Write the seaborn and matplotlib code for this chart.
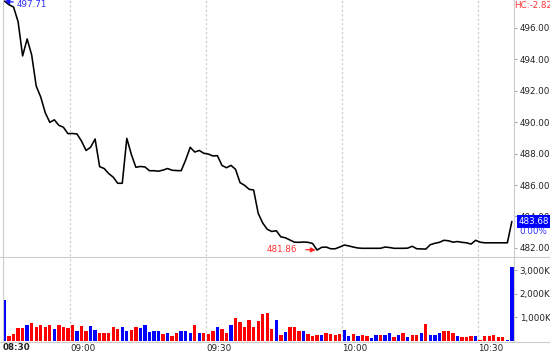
import pandas as pd
import seaborn as sns
import matplotlib.pyplot as plt
from matplotlib.lines import Line2D

# minute index of each 1-min bar
minutes = list(range(113))

price = [
    497.71, 497.48, 497.33, 496.40, 494.22, 495.30, 494.28, 492.30, 491.60, 490.60,
    489.99, 490.15, 489.80, 489.68, 489.27, 489.28, 489.25, 488.80, 488.20, 488.40,
    488.93, 487.17, 487.05, 486.73, 486.50, 486.11, 486.11, 488.97, 487.95, 487.13,
    487.18, 487.15, 486.91, 486.91, 486.88, 486.95, 487.05, 486.94, 486.92, 486.91,
    487.60, 488.40, 488.10, 488.20, 488.02, 487.97, 487.85, 487.87, 487.25, 487.10,
    487.25, 487.00, 486.15, 485.98, 485.73, 485.68, 484.20, 483.58, 483.18, 483.04,
    483.09, 482.70, 482.64, 482.50, 482.36, 482.35, 482.37, 482.35, 482.28, 481.86,
    482.03, 482.05, 481.94, 481.94, 482.05, 482.18, 482.12, 482.05, 481.99, 481.97,
    481.97, 481.97, 481.97, 481.97, 482.05, 482.02, 481.97, 481.97, 481.97, 481.98,
    482.10, 481.94, 481.93, 481.92, 482.20, 482.29, 482.35, 482.48, 482.45, 482.36,
    482.40, 482.35, 482.32, 482.24, 482.48, 482.36, 482.32, 482.32, 482.32, 482.32,
    482.32, 482.32, 483.68,
]

volume_k = [
    1730, 215, 315, 570, 545, 690, 760, 590, 690, 590,
    690, 500, 690, 600, 545, 686, 443, 658, 429, 629,
    486, 343, 343, 358, 586, 515, 615, 443, 486, 615,
    543, 686, 400, 429, 429, 286, 329, 229, 329, 443,
    429, 329, 686, 358, 329, 286, 429, 586, 515, 329,
    686, 972, 786, 615, 872, 600, 829, 1158, 1187, 515,
    900, 257, 400, 586, 615, 429, 443, 286, 229, 257,
    257, 329, 315, 257, 286, 472, 215, 315, 215, 257,
    229, 114, 257, 257, 257, 358, 186, 257, 358, 186,
    257, 272, 358, 715, 243, 257, 358, 429, 429, 358,
    215, 186, 186, 215, 215, 43, 215, 229, 257, 186,
    186, 43, 3160,
]

# b = blue bar, r = red bar
bar_dir = list(
    "brrrrbrrrr" "rbrrrrbrrb" "brrrrrbbrr" "bbbbbrbrrb"
    "bbrbrrrbrr" "brrrrrrrrr" "brbrrrbrrr" "brrrrbbrbr"
    "rbbrbbrbrb" "rrbrbbbrrr" "brrrbrrrrr" "rbb"
)

time_ticks = [14.5, 44.5, 74.5, 104.5]
time_labels = ["09:00", "09:30", "10:00", "10:30"]
price_ticks = [482, 484, 486, 488, 490, 492, 494, 496]
vol_ticks = [1000, 2000, 3000]
vol_labels = ["1,000K", "2,000K", "3,000K"]

sns.set_style("white")
plt.rcParams["font.family"] = ["DejaVu Sans"]
fs = 6.3
W, H = 550, 353

fig = plt.figure(figsize=(5.5, 3.53), dpi=100)
ax = fig.add_axes([3 / W, 97 / H, 511 / W, 256 / H])
axv = fig.add_axes([3 / W, 12 / H, 511 / W, 85 / H], sharex=ax)

# price line
sns.lineplot(x=minutes, y=price, ax=ax, color="black", linewidth=1.15)

# volume bars
df = pd.DataFrame({"minute": minutes, "vol": volume_k, "dir": bar_dir})
sns.barplot(data=df, x="minute", y="vol", hue="dir",
            palette={"b": "#0000ff", "r": "#ff0000"}, saturation=1,
            dodge=False, native_scale=True, width=0.74, errorbar=None,
            legend=False, linewidth=0, ax=axv)

ax.set_xlim(-0.33, 112.47)
ax.set_ylim(481.48, 497.78)
axv.set_ylim(0, 3610)

for a in (ax, axv):
    a.set_xlabel("")
    a.set_ylabel("")
    a.set_xticks(time_ticks)
    a.grid(axis="x", linestyle=(0, (2, 2)), color="#c8c8c8", linewidth=0.8)
    a.grid(axis="y", visible=False)
    a.yaxis.tick_right()
    a.tick_params(axis="y", length=2.5, pad=1.5, labelsize=fs,
                  color="#aaaaaa", labelcolor="#222222")
    for s in ("top", "bottom"):
        a.spines[s].set_visible(False)
    for s in ("left", "right"):
        a.spines[s].set_color("#cccccc")
        a.spines[s].set_linewidth(0.8)

ax.tick_params(axis="x", length=0, labelbottom=False)
ax.set_yticks(price_ticks, [f"{v:.2f}" for v in price_ticks])
axv.set_yticks(vol_ticks, vol_labels)
axv.set_xticks(time_ticks, time_labels, ha="left")
axv.tick_params(axis="x", length=0, pad=2.5, labelsize=fs, labelcolor="#222222")

# full-width separators between the panels and under the volume bars
for yy in (256.5, 341.5):
    fig.add_artist(Line2D([0, 1], [1 - yy / H, 1 - yy / H],
                          transform=fig.transFigure, color="#cccccc", lw=0.8))

fig.text(3 / W, 1 - 347 / H, "08:30", fontsize=fs, fontweight="bold",
         color="#222222", ha="left", va="center")

# start price marker
ax.annotate("497.71", xy=(minutes[0], price[0]), xytext=(12, -3),
            textcoords="offset pixels", ha="left", va="center",
            fontsize=fs, color="#2a2aff",
            arrowprops=dict(arrowstyle="-|>", color="#1a1aff", lw=0.9,
                            mutation_scale=7, shrinkA=0, shrinkB=0))

# session low marker
low_i = price.index(min(price))
ax.annotate(f"{price[low_i]:.2f}", xy=(minutes[low_i], price[low_i]),
            xytext=(-20, 1), textcoords="offset pixels", ha="right",
            va="center", fontsize=fs, color="#ff3333",
            arrowprops=dict(arrowstyle="-|>", color="#ff2222", lw=0.9,
                            mutation_scale=7, shrinkA=4, shrinkB=1))

fig.text(514 / W, 1 - 5 / H, "HC:-2.82", fontsize=fs, color="#ff3333",
         ha="left", va="center")

# last price tag
ax.text(1.0 + 5 / 511, price[-1], f"{price[-1]:.2f}",
        transform=ax.get_yaxis_transform(), ha="left", va="center",
        fontsize=fs, color="white",
        bbox=dict(boxstyle="square,pad=0.2", fc="#0000ff", ec="none"))
ax.annotate("0.00%", xy=(1.0, price[-1]), xycoords=ax.get_yaxis_transform(),
            xytext=(5, -10), textcoords="offset pixels", ha="left",
            va="center", fontsize=fs, color="#3333ff")

fig.savefig("out.png", dpi=100)
plt.close(fig)
